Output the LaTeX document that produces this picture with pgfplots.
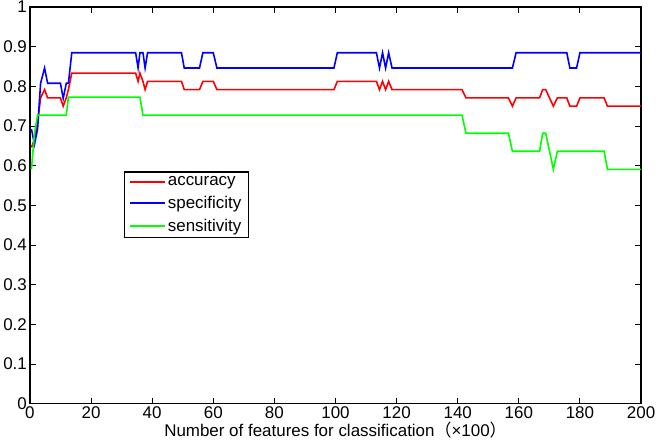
\documentclass[border=0pt]{standalone}
\usepackage{fontspec}
\setmainfont{Liberation Sans}
\newfontfamily\cjk{Noto Sans CJK SC}
\usepackage{pgfplots}
\usepackage{pgfplotstable}
\pgfplotsset{compat=1.18}
\pgfplotstableread{
x acc spec sens
0.5 0.6458 0.6923 0.5909
1.5 0.6667 0.6538 0.6818
2.5 0.7083 0.6923 0.7273
3.5 0.7708 0.8077 0.7273
4.8 0.7917 0.8462 0.7273
5.8 0.7708 0.8077 0.7273
10.0 0.7708 0.8077 0.7273
10.9 0.7500 0.7692 0.7273
11.9 0.7708 0.8077 0.7273
12.6 0.7917 0.8077 0.7727
13.7 0.8333 0.8846 0.7727
34.6 0.8333 0.8846 0.7727
35.4 0.8125 0.8462 0.7727
36.0 0.8333 0.8846 0.7727
37.0 0.8125 0.8846 0.7273
37.7 0.7917 0.8462 0.7273
38.5 0.8125 0.8846 0.7273
49.6 0.8125 0.8846 0.7273
50.5 0.7917 0.8462 0.7273
55.5 0.7917 0.8462 0.7273
56.6 0.8125 0.8846 0.7273
60.0 0.8125 0.8846 0.7273
61.2 0.7917 0.8462 0.7273
99.5 0.7917 0.8462 0.7273
100.6 0.8125 0.8846 0.7273
113.4 0.8125 0.8846 0.7273
114.4 0.7917 0.8462 0.7273
115.4 0.8125 0.8846 0.7273
116.4 0.7917 0.8462 0.7273
117.4 0.8125 0.8846 0.7273
118.5 0.7917 0.8462 0.7273
141.4 0.7917 0.8462 0.7273
142.7 0.7708 0.8462 0.6818
156.6 0.7708 0.8462 0.6818
157.9 0.7500 0.8462 0.6364
159.1 0.7708 0.8846 0.6364
166.8 0.7708 0.8846 0.6364
167.8 0.7917 0.8846 0.6818
168.8 0.7917 0.8846 0.6818
171.3 0.7500 0.8846 0.5909
172.6 0.7708 0.8846 0.6364
175.7 0.7708 0.8846 0.6364
176.7 0.7500 0.8462 0.6364
178.9 0.7500 0.8462 0.6364
180.0 0.7708 0.8846 0.6364
187.9 0.7708 0.8846 0.6364
189.0 0.7500 0.8846 0.5909
200.0 0.7500 0.8846 0.5909
}\datatable
\begin{document}
\begin{tikzpicture}
\begin{axis}[
  name=ax,
  scale only axis,
  width=613pt, height=398pt,
  xmin=0, xmax=200, ymin=0, ymax=1,
  xtick={0,20,...,200},
  ytick={0,0.1,...,1},
  yticklabels={0,0.1,0.2,0.3,0.4,0.5,0.6,0.7,0.8,0.9,1},
  xtick pos=both, ytick pos=both,
  tick align=inside,
  major tick length=6pt,
  tick style={black, line width=1pt},
  axis line style={black, line width=1.2pt},
  /pgf/number format/assume math mode=true,
  ticklabel style={font=\fontsize{17}{20}\selectfont},
  xticklabel style={yshift=-1.5pt, inner ysep=1.5pt, inner xsep=0pt},
  yticklabel style={xshift=0.5pt, inner ysep=0pt},
  xlabel={Number of features for classification{\cjk （}×100{\cjk ）}},
  xlabel style={font=\fontsize{17}{20}\selectfont, inner ysep=1pt, yshift=-0.5pt},
  legend style={at={(rel axis cs:0.1533,0.5854)}, anchor=north west,
    font=\fontsize{17}{20}\selectfont, draw=black, very thick,
    row sep=5pt, inner xsep=5pt, inner ysep=2.5pt},
  legend cell align=left,
  legend image code/.code={\draw[#1, line width=1.8pt] (0pt,0pt) -- (35pt,0pt);},
]
\addplot[red, line width=1.6pt] table[x=x, y=acc] {\datatable};
\addlegendentry{accuracy}
\addplot[blue, line width=1.6pt] table[x=x, y=spec] {\datatable};
\addlegendentry{specificity}
\addplot[green, line width=1.6pt] table[x=x, y=sens] {\datatable};
\addlegendentry{sensitivity}
\end{axis}
\path ([shift={(-28pt,-41pt)}]ax.south west) rectangle ([shift={(20pt,7pt)}]ax.north east);
\end{tikzpicture}
\end{document}
